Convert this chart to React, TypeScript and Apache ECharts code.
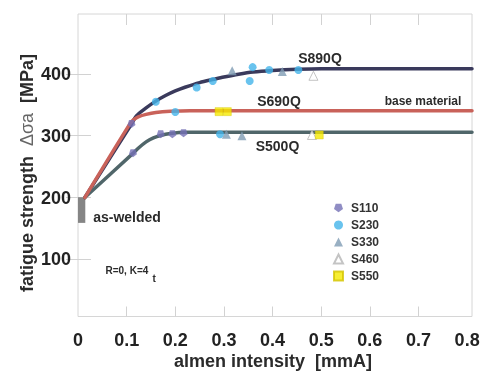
import React, { useEffect, useRef } from "react";
import * as echarts from "echarts";

const xLabelValues = [0, 0.1, 0.2, 0.3, 0.4, 0.5, 0.6, 0.7, 0.8];
const xTickValues = [0.1, 0.2, 0.3, 0.4, 0.5, 0.6, 0.7];
const yTickValues = [100, 200, 300, 400];

const s890q = [
  [0.014, 200], [0.11, 319], [0.12, 332], [0.14, 345], [0.16, 356],
  [0.18, 365], [0.2, 372.5], [0.22, 378.5], [0.25, 386], [0.28, 391.5], [0.3, 395], [0.33, 399.5],
  [0.36, 403], [0.4, 405.5], [0.45, 407.5], [0.5, 408.5], [0.81, 408.5],
];
const s690q = [
  [0.014, 200], [0.107, 319.5], [0.115, 326.5], [0.125, 331], [0.14, 334.5],
  [0.16, 337.5], [0.19, 339.5], [0.23, 340.5], [0.81, 340.5],
];
const s500q = [
  [0.014, 200], [0.113, 271.5], [0.125, 280.5], [0.14, 290], [0.155, 296.5],
  [0.17, 300.5], [0.19, 303.5], [0.22, 305.5], [0.81, 305.5],
];

const s110 = [[0.11, 319], [0.113, 271.6], [0.17, 302.4], [0.194, 302.4], [0.217, 304]];
const s230 = [
  [0.16, 355], [0.2, 338.5], [0.244, 378], [0.277, 388.7], [0.353, 388.7],
  [0.359, 411], [0.393, 406.5], [0.453, 406.5], [0.292, 302.4],
];
const s330 = [[0.317, 405], [0.42, 404], [0.305, 302.4], [0.337, 300]];
const s460 = [[0.484, 397], [0.481, 301.3]];
const s550 = [[0.29, 339], [0.307, 339], [0.496, 301.3]];

const asWelded = [[0, 0.015, 159, 200.5]];

const FONT = "'Liberation Sans', Arial, Helvetica, sans-serif";
const PENTA = "path://M1.9,0.5L8.1,0.5L10,6.4L5,10L0,6.4Z";

export default function App() {
  const ref = useRef<HTMLDivElement>(null);
  useEffect(() => {
    if (!ref.current) return;
    const chart = echarts.init(ref.current, null, { renderer: "svg" });
    const tickStyle = { color: "#d2d2d2", width: 1 };
    const lineSeries = (name: string, data: number[][], color: string, z: number) => ({
      name,
      type: "line",
      data,
      showSymbol: false,
      symbol: "none",
      smooth: 0.3,
      lineStyle: { color, width: 3.5, cap: "round", join: "round" },
      z,
      silent: true,
    });
    const scatter = (name: string, data: number[][], symbol: string, size: number, itemStyle: any) => ({
      name,
      type: "scatter",
      data,
      symbol,
      symbolSize: size,
      itemStyle,
      z: 6,
    });
    chart.setOption({
      animation: false,
      textStyle: { fontFamily: FONT },
      grid: {
        left: 78,
        right: 11,
        top: 14,
        bottom: 55.5,
        show: true,
        borderColor: "#d6d6d6",
        borderWidth: 1,
        backgroundColor: "transparent",
      },
      legend: {
        orient: "vertical",
        left: 328,
        top: 197,
        itemWidth: 9,
        itemHeight: 9,
        itemGap: 5,
        textStyle: { fontSize: 12, fontWeight: "bold", color: "#333", lineHeight: 12, fontFamily: FONT, padding: [0, 0, 0, 3] },
        data: ["S110", "S230", "S330", "S460", "S550"],
      },
      xAxis: [
        {
          type: "value",
          min: 0,
          max: 0.81,
          position: "bottom",
          axisLine: { show: false },
          splitLine: { show: false },
          axisTick: { show: true, inside: true, length: 10, lineStyle: tickStyle, customValues: xTickValues },
          axisLabel: {
            customValues: xLabelValues,
            formatter: (v: number) => (v === 0 ? "0" : v.toFixed(1)),
            fontSize: 18,
            fontWeight: "bold",
            color: "#222",
            margin: 14,
            fontFamily: FONT,
          },
        },
        {
          type: "value",
          min: 0,
          max: 0.81,
          position: "top",
          axisLine: { show: false },
          splitLine: { show: false },
          axisTick: { show: true, inside: true, length: 11, lineStyle: tickStyle, customValues: xTickValues },
          axisLabel: { show: false },
        },
      ],
      yAxis: [
        {
          type: "value",
          min: 7.5,
          max: 497,
          position: "left",
          axisLine: { show: false },
          splitLine: { show: false },
          axisTick: { show: true, inside: true, length: 13, lineStyle: tickStyle, customValues: yTickValues },
          axisLabel: {
            customValues: yTickValues,
            fontSize: 18,
            fontWeight: "bold",
            color: "#222",
            margin: 7,
            fontFamily: FONT,
          },
        },
        {
          type: "value",
          min: 7.5,
          max: 497,
          position: "right",
          axisLine: { show: false },
          splitLine: { show: false },
          axisTick: { show: true, inside: true, length: 12, lineStyle: tickStyle, customValues: yTickValues },
          axisLabel: { show: false },
        },
      ],
      series: [
        {
          type: "custom",
          name: "as-welded",
          data: asWelded,
          encode: { x: [0, 1], y: [2, 3] },
          renderItem: (params: any, api: any) => {
            const p0 = api.coord([api.value(0), api.value(3)]);
            const p1 = api.coord([api.value(1), api.value(2)]);
            return {
              type: "rect",
              shape: { x: p0[0], y: p0[1], width: p1[0] - p0[0], height: p1[1] - p0[1] },
              style: { fill: "#858585" },
            };
          },
          z: 1,
          silent: true,
        },
        lineSeries("S890Q", s890q, "#3a3a5c", 2),
        lineSeries("S500Q", s500q, "#50666a", 3),
        lineSeries("S690Q", s690q, "#c9625a", 4),
        scatter("S110", s110, PENTA, 8, { color: "#7470b5" }),
        scatter("S230", s230, "circle", 8, { color: "#43b4ea" }),
        scatter("S330", s330, "triangle", 9, { color: "#7f9cb4" }),
        scatter("S460", s460, "triangle", 9, { color: "#ffffff", borderColor: "#b5b5b5", borderWidth: 1 }),
        scatter("S550", s550, "rect", 8, { color: "#f5ea00", borderColor: "#d4c400", borderWidth: 0.5 }),
      ],
      graphic: [
        { type: "text", x: 320, y: 58, z: 10, style: { text: "S890Q", font: `bold 14px ${FONT}`, fill: "#2b2b2b", align: "center", verticalAlign: "middle" } },
        { type: "text", x: 279, y: 101, z: 10, style: { text: "S690Q", font: `bold 14px ${FONT}`, fill: "#2b2b2b", align: "center", verticalAlign: "middle" } },
        { type: "text", x: 423, y: 101, z: 10, style: { text: "base material", font: `bold 12px ${FONT}`, fill: "#2b2b2b", align: "center", verticalAlign: "middle" } },
        { type: "text", x: 277.5, y: 146, z: 10, style: { text: "S500Q", font: `bold 14px ${FONT}`, fill: "#2b2b2b", align: "center", verticalAlign: "middle" } },
        { type: "text", x: 127, y: 217, z: 10, style: { text: "as-welded", font: `bold 14px ${FONT}`, fill: "#2b2b2b", align: "center", verticalAlign: "middle" } },
        { type: "text", x: 105.5, y: 270, z: 10, style: { text: "R=0, K=4", font: `bold 10px ${FONT}`, fill: "#2b2b2b", align: "left", verticalAlign: "middle" } },
        { type: "text", x: 152.5, y: 278, z: 10, style: { text: "t", font: `bold 10px ${FONT}`, fill: "#2b2b2b", align: "left", verticalAlign: "middle" } },
        { type: "text", x: 273, y: 361, z: 10, style: { text: "almen intensity  [mmA]", font: `bold 18px ${FONT}`, fill: "#2b2b2b", align: "center", verticalAlign: "middle" } },
        {
          type: "text",
          x: 27,
          y: 173,
          rotation: Math.PI / 2,
          z: 10,
          style: {
            text: "{b|fatigue strength  }{n|Δσa}{b|  [MPa]}",
            align: "center",
            verticalAlign: "middle",
            rich: {
              b: { font: `bold 18px ${FONT}`, fill: "#2b2b2b", fontFamily: FONT, fontSize: 18, fontWeight: "bold", color: "#2b2b2b" },
              n: { font: `18px ${FONT}`, fill: "#666", fontFamily: FONT, fontSize: 18, fontWeight: "normal", color: "#666" },
            },
          },
        },
      ],
    });
    return () => chart.dispose();
  }, []);
  return <div ref={ref} style={{ position: "fixed", left: 0, top: 0, width: 483, height: 372 }} />;
}
